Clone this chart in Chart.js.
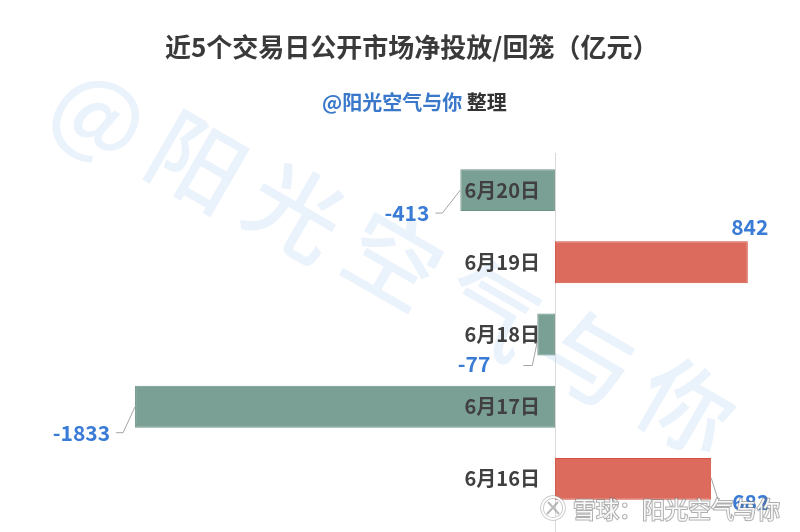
<!DOCTYPE html>
<html>
<head>
<meta charset="utf-8">
<script src="https://cdn.jsdelivr.net/npm/chart.js@4/dist/chart.umd.min.js"></script>
<style>html, body { margin: 0; background: #fff; }</style>
</head>
<body>
<canvas id="myChart" width="800" height="532"></canvas>
<script>
var categories = ['6月20日', '6月19日', '6月18日', '6月17日', '6月16日'];
var netValues = [-413, 842, -77, -1833, 682];
var titleText = '近5个交易日公开市场净投放/回笼（亿元）';
var subtitleAuthor = '@阳光空气与你';
var subtitleTail = ' 整理';
var watermarkText = '@阳光空气与你';
var footerMark = '雪球：阳光空气与你';

var FONT = '"Noto Sans CJK SC", "Noto Sans", sans-serif';

// where each value label sits, relative to the bar end (px)
var labelPlacement = [
    { align: 'right', dx: -31, dy: 23, leader: true, sy: 0, ly: 0, gap: 6, tail: 7 },
    { align: 'center', dx: 2, dy: -35, leader: false },
    { align: 'right', dx: -47, dy: 30, leader: true, sy: 7, ly: 1, gap: 33, tail: 9 },
    { align: 'right', dx: -25, dy: 26, leader: true, sy: 0, ly: 0, gap: 6, tail: 7 },
    { align: 'left', dx: 21, dy: 23, leader: true, sy: -1, ly: -2, gap: 14, tail: 0 }
];

var decorPlugin = {
    id: 'decor',
    beforeDraw: function (chart) {
        var c = chart.ctx;
        c.save();
        c.fillStyle = '#fff';
        c.fillRect(0, 0, chart.width, chart.height);

        // big diagonal watermark
        c.fillStyle = '#eaf2fb';
        c.font = '500 93px ' + FONT;
        c.textAlign = 'center';
        c.textBaseline = 'middle';
        Array.from(watermarkText).forEach(function (ch, i) {
            c.save();
            c.translate(100 + i * 97.8, 113 + i * 49);
            c.rotate(30 * Math.PI / 180);
            c.fillText(ch, 0, 0);
            c.restore();
        });

        // title + subtitle
        c.textAlign = 'left';
        c.fillStyle = '#3a3a3a';
        c.font = 'bold 26px ' + FONT;
        c.fillText(titleText, 165, 47);

        c.font = 'bold 20px ' + FONT;
        c.fillStyle = '#3a78c9';
        c.fillText(subtitleAuthor, 322, 102);
        var w = c.measureText(subtitleAuthor).width;
        c.fillStyle = '#333';
        c.fillText(subtitleTail, 322 + w, 102);

        // zero axis line
        var x0 = Math.round(chart.scales.x.getPixelForValue(0)) + 0.5;
        c.strokeStyle = '#d9d9d9';
        c.lineWidth = 1;
        c.beginPath();
        c.moveTo(x0, chart.chartArea.top - 1);
        c.lineTo(x0, chart.height);
        c.stroke();
        c.restore();
    },
    afterDatasetsDraw: function (chart) {
        var c = chart.ctx;
        var x0 = chart.scales.x.getPixelForValue(0);
        var meta = chart.getDatasetMeta(0);
        c.save();
        c.textBaseline = 'middle';

        // category labels next to the axis
        c.fillStyle = '#404040';
        c.font = 'bold 20px ' + FONT;
        c.textAlign = 'right';
        meta.data.forEach(function (bar, i) {
            c.fillText(categories[i], x0 - 15, bar.y);
        });

        // value labels with leader lines
        c.font = 'bold 21px ' + FONT;
        meta.data.forEach(function (bar, i) {
            var p = labelPlacement[i];
            var endX = bar.x, cy = bar.y;
            var tx = endX + p.dx, ty = cy + p.dy;
            c.fillStyle = '#3a7bd5';
            c.textAlign = p.align;
            c.fillText(String(netValues[i]), tx, ty);
            if (p.leader) {
                var s = p.align === 'right' ? 1 : -1;
                var ex = tx + s * p.gap, ly = ty + p.ly;
                c.strokeStyle = '#a5a5a5';
                c.lineWidth = 1;
                c.beginPath();
                c.moveTo(endX, cy + p.sy);
                c.lineTo(ex + s * p.tail, ly);
                c.lineTo(ex, ly);
                c.stroke();
            }
        });
        c.restore();
    },
    afterDraw: function (chart) {
        var c = chart.ctx;
        c.save();
        c.textAlign = 'left';
        c.textBaseline = 'middle';
        c.font = '23px ' + FONT;
        c.lineWidth = 2;
        c.strokeStyle = 'rgba(110,110,110,0.55)';
        c.fillStyle = 'rgba(255,255,255,0.92)';
        c.strokeText(footerMark, 573, 509);
        c.fillText(footerMark, 573, 509);
        // logo
        c.beginPath();
        c.arc(553, 508, 11, 0, 2 * Math.PI);
        c.lineWidth = 3.5;
        c.strokeStyle = 'rgba(150,150,150,0.6)';
        c.stroke();
        c.lineWidth = 2;
        c.strokeStyle = 'rgba(255,255,255,0.95)';
        c.stroke();
        c.beginPath();
        c.moveTo(548, 502); c.lineTo(559, 514);
        c.moveTo(558, 502); c.lineTo(547, 514);
        c.lineWidth = 2;
        c.strokeStyle = 'rgba(140,140,140,0.6)';
        c.stroke();
        c.restore();
    }
};

var ctx = document.getElementById('myChart').getContext('2d');
var myChart = new Chart(ctx, {
    type: 'bar',
    data: {
        labels: categories,
        datasets: [{
            data: netValues,
            backgroundColor: netValues.map(function (v) { return v < 0 ? '#7a9f94' : '#dc6b5d'; }),
            borderColor: netValues.map(function (v) { return v < 0 ? '#6c9287' : '#d2513f'; }),
            borderWidth: 1,
            borderSkipped: false,
            categoryPercentage: 1,
            barPercentage: 0.58
        }]
    },
    options: {
        indexAxis: 'y',
        responsive: false,
        animation: false,
        layout: { padding: { left: 51, right: 16, top: 154, bottom: 17 } },
        scales: {
            x: { display: false, min: -2200, max: 1000 },
            y: { display: false }
        },
        plugins: {
            legend: { display: false },
            tooltip: { enabled: false }
        }
    },
    plugins: [decorPlugin]
});
</script>
</body>
</html>
